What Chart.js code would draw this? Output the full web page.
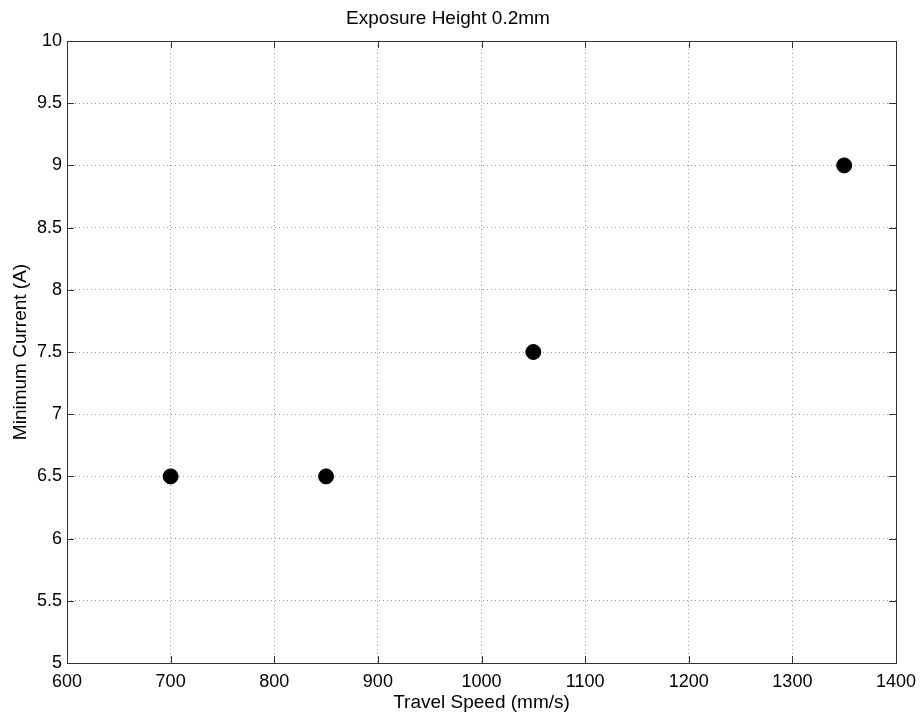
<!DOCTYPE html>
<html>
  <head>
    <title>Exposure Height 0.2mm</title>
    <script src="https://cdn.jsdelivr.net/npm/chart.js@4.4.0/dist/chart.umd.min.js"></script>
    <style>
      body { margin: 0; background: #fff; }
      #wrap { width: 920px; height: 714px; }
    </style>
  </head>
  <body>
    <div id="wrap"><canvas id="myChart"></canvas></div>
    <script>
      // values
      const travelSpeed = [700, 850, 1050, 1350];   // mm/s
      const minCurrent = [6.5, 6.5, 7.5, 9];        // A
      const xRange = [600, 1400];
      const yRange = [5, 10];

      const font = "'Liberation Sans', Arial, sans-serif";

      // matlab style box + inward ticks
      const boxPlugin = {
        id: 'box',
        afterDraw(chart) {
          const {ctx, chartArea: a, scales} = chart;
          ctx.save();
          ctx.strokeStyle = '#333';
          ctx.lineWidth = 1;
          ctx.strokeRect(a.left + 0.5, a.top + 0.5, a.right - a.left, a.bottom - a.top);
          const len = 7;
          ctx.beginPath();
          scales.x.ticks.forEach(t => {
            const px = Math.round(scales.x.getPixelForValue(t.value)) + 0.5;
            ctx.moveTo(px, a.bottom); ctx.lineTo(px, a.bottom - len);
            ctx.moveTo(px, a.top); ctx.lineTo(px, a.top + len);
          });
          scales.y.ticks.forEach(t => {
            const py = Math.round(scales.y.getPixelForValue(t.value)) + 0.5;
            ctx.moveTo(a.left, py); ctx.lineTo(a.left + len, py);
            ctx.moveTo(a.right, py); ctx.lineTo(a.right - len, py);
          });
          ctx.stroke();
          ctx.restore();
        }
      };

      const ctx = document.getElementById('myChart').getContext('2d');
      const myChart = new Chart(ctx, {
        type: 'scatter',
        data: {
          datasets: [{
            data: travelSpeed.map((x, i) => ({x: x, y: minCurrent[i]})),
            backgroundColor: '#000',
            borderColor: '#000',
            pointRadius: 7.5,
            pointHoverRadius: 7.5
          }]
        },
        options: {
          responsive: true,
          maintainAspectRatio: false,
          animation: false,
          layout: { padding: { left: 0, right: 24, top: 0, bottom: 0 } },
          plugins: {
            legend: { display: false },
            tooltip: { enabled: false },
            title: {
              display: true,
              text: 'Exposure Height 0.2mm',
              color: '#000',
              font: { family: font, size: 19, weight: 'normal' },
              padding: { top: 7, bottom: 11.2 }
            }
          },
          scales: {
            x: {
              type: 'linear',
              min: xRange[0],
              max: xRange[1],
              afterFit(scale) { scale.height = 51; scale.paddingLeft = 0; scale.paddingRight = 0; },
              ticks: {
                stepSize: 100, color: '#000', padding: 8,
                font: { family: font, size: 18 },
                callback: v => String(v)
              },
              grid: { color: '#999', drawTicks: false, tickLength: 0 },
              border: { display: false, dash: [1, 3] },
              title: {
                display: true,
                text: 'Travel Speed (mm/s)',
                color: '#000',
                font: { family: font, size: 19 },
                padding: { top: 0, bottom: 0 }
              }
            },
            y: {
              type: 'linear',
              min: yRange[0],
              max: yRange[1],
              afterFit(scale) { scale.width = 67; scale.paddingTop = 0; scale.paddingBottom = 0; },
              ticks: {
                stepSize: 0.5, color: '#000', padding: 5,
                font: { family: font, size: 18 },
                callback: v => String(v)
              },
              grid: { color: '#999', drawTicks: false, tickLength: 0 },
              border: { display: false, dash: [1, 3] },
              title: {
                display: true,
                text: 'Minimum Current (A)',
                color: '#000',
                font: { family: font, size: 19 },
                padding: { top: 9, bottom: 0 }
              }
            }
          }
        },
        plugins: [boxPlugin]
      });
    </script>
  </body>
</html>
